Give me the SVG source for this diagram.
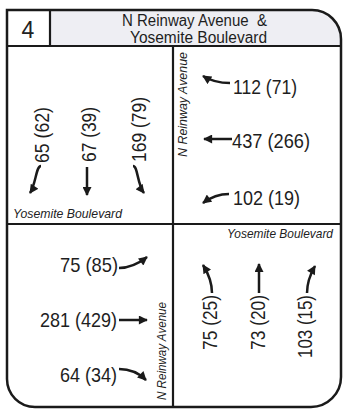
<svg xmlns="http://www.w3.org/2000/svg" width="353" height="410" viewBox="0 0 353 410">
<style>
.frame{fill:none;stroke:#1a1a1a;stroke-width:2.5}
.div{stroke:#1a1a1a;stroke-width:2.2;fill:none}
.num{font-family:"Liberation Sans",Arial,sans-serif;font-size:21px;fill:#1e1e1e}
.st{font-family:"Liberation Sans",Arial,sans-serif;font-size:13px;font-style:italic;fill:#222}
.hd{font-family:"Liberation Sans",Arial,sans-serif;font-size:16px;fill:#1e1e1e;text-anchor:middle}
.arr{fill:none;stroke:#1a1a1a;stroke-width:2.5;marker-end:url(#ah)}
</style>
<defs>
<marker id="ah" viewBox="0 0 10 10" refX="9" refY="5" markerUnits="userSpaceOnUse" markerWidth="10" markerHeight="9" orient="auto">
<path d="M0,0 L10,5 L0,10 z" fill="#1a1a1a"/>
</marker>
</defs>
<rect width="353" height="410" fill="#ffffff"/>
<g id="header">
<path d="M50,10 L312,10 A29,29 0 0 1 341,39 L341,46 L50,46 Z" fill="#eeeef3"/>
<line class="div" x1="50" y1="10" x2="50" y2="46"/>
<line class="div" x1="7" y1="46" x2="341" y2="46"/>
<text x="28" y="38" font-family="'Liberation Sans',Arial,sans-serif" font-size="23" fill="#222" text-anchor="middle">4</text>
<text class="hd" x="194.5" y="26" textLength="145" lengthAdjust="spacingAndGlyphs" xml:space="preserve">N Reinway Avenue  &amp;</text>
<text class="hd" x="198.5" y="43" textLength="137" lengthAdjust="spacingAndGlyphs">Yosemite Boulevard</text>
</g>
<path id="frame" class="frame" d="M7,10 L312,10 A29,29 0 0 1 341,39 L341,377 A30,30 0 0 1 311,407 L35,407 A28,28 0 0 1 7,379 Z"/>
<g id="dividers">
<line class="div" x1="173" y1="46" x2="173" y2="407"/>
<line class="div" x1="7" y1="224" x2="341" y2="224"/>
</g>
<g id="nw">
<text class="num" transform="translate(49,163) rotate(-90)" textLength="56" lengthAdjust="spacingAndGlyphs">65 (62)</text>
<text class="num" transform="translate(96,162) rotate(-90)" textLength="55" lengthAdjust="spacingAndGlyphs">67 (39)</text>
<text class="num" transform="translate(146,162) rotate(-90)" textLength="65" lengthAdjust="spacingAndGlyphs">169 (79)</text>
<text class="st" x="13" y="218" textLength="109" lengthAdjust="spacingAndGlyphs">Yosemite Boulevard</text>
</g>
<g id="ne">
<text class="st" transform="translate(187,157) rotate(-90)" textLength="105" lengthAdjust="spacingAndGlyphs">N Reinway Avenue</text>
<text class="num" x="233" y="94" textLength="64" lengthAdjust="spacingAndGlyphs">112 (71)</text>
<text class="num" x="232" y="148" textLength="78" lengthAdjust="spacingAndGlyphs">437 (266)</text>
<text class="num" x="233" y="205" textLength="67" lengthAdjust="spacingAndGlyphs">102 (19)</text>
</g>
<g id="sw">
<text class="num" x="60" y="272" textLength="58" lengthAdjust="spacingAndGlyphs">75 (85)</text>
<text class="num" x="40" y="327" textLength="77" lengthAdjust="spacingAndGlyphs">281 (429)</text>
<text class="num" x="60" y="382" textLength="57" lengthAdjust="spacingAndGlyphs">64 (34)</text>
<text class="st" transform="translate(166,400) rotate(-90)" textLength="98" lengthAdjust="spacingAndGlyphs">N Reinway Avenue</text>
</g>
<g id="se">
<text class="st" x="227" y="238" textLength="106" lengthAdjust="spacingAndGlyphs">Yosemite Boulevard</text>
<text class="num" transform="translate(217,350) rotate(-90)" textLength="55" lengthAdjust="spacingAndGlyphs">75 (25)</text>
<text class="num" transform="translate(265,350) rotate(-90)" textLength="55" lengthAdjust="spacingAndGlyphs">73 (20)</text>
<text class="num" transform="translate(312,358) rotate(-90)" textLength="63" lengthAdjust="spacingAndGlyphs">103 (15)</text>
</g>
<g id="connectors">
<path class="arr" d="M41,166 C36,166 36,184 30,193"/>
<path class="arr" d="M87,167 L87,195"/>
<path class="arr" d="M133,166 C138,166 137,184 144,193"/>
<path class="arr" d="M230,83 C220,83 211,81 203,76"/>
<path class="arr" d="M232,139 L204,139"/>
<path class="arr" d="M229,194 C219,194 211,197 203,203"/>
<path class="arr" d="M119,268 C130,268 138,264 147,257"/>
<path class="arr" d="M119,320 L147,320"/>
<path class="arr" d="M119,369 C130,369 139,373 146,380"/>
<path class="arr" d="M212,293 C212,283 208,273 203,265"/>
<path class="arr" d="M259,293 L259,264"/>
<path class="arr" d="M307,293 C307,283 311,273 315,266"/>
</g>
</svg>
